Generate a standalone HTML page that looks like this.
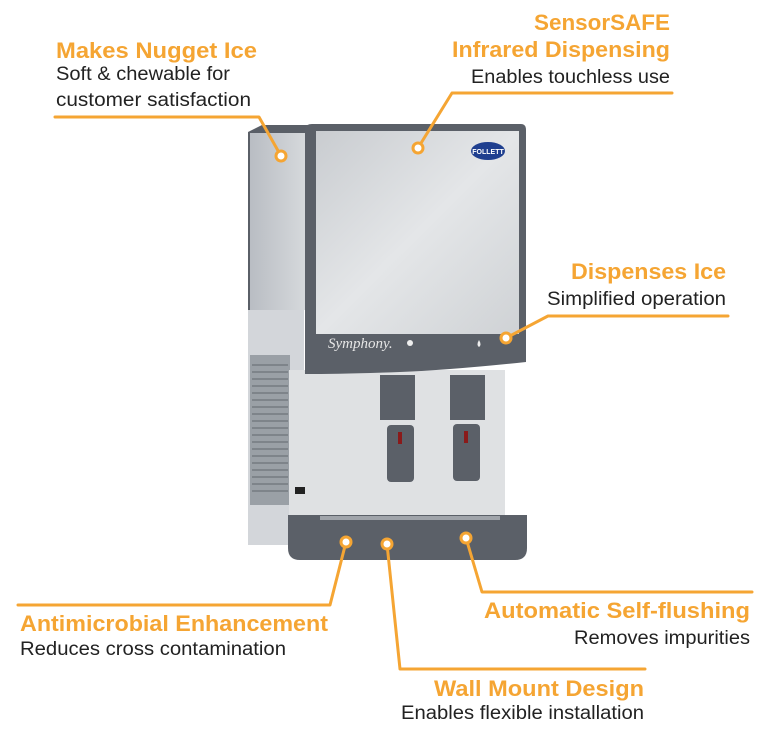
<!DOCTYPE html>
<html><head><meta charset="utf-8"><style>
html,body{margin:0;padding:0;background:#fff;width:770px;height:730px;overflow:hidden}
svg{display:block}
.t{font-family:"Liberation Sans",sans-serif;font-weight:bold;font-size:22.5px;fill:#f5a533}
.s{font-family:"Liberation Sans",sans-serif;font-size:19px;fill:#222}
</style></head><body>
<svg width="770" height="730" viewBox="0 0 770 730">
<defs>
<linearGradient id="steel" x1="0" y1="0" x2="1" y2="1"><stop offset="0" stop-color="#c9ccd0"/><stop offset="0.5" stop-color="#e4e6e8"/><stop offset="1" stop-color="#cfd2d5"/></linearGradient>
<linearGradient id="side" x1="0" y1="0" x2="1" y2="0"><stop offset="0" stop-color="#b9bdc3"/><stop offset="1" stop-color="#d6d9dc"/></linearGradient>
</defs>
<polygon points="248,132 262,125 308,125 308,310 248,310" fill="#5a5f67"/>
<rect x="250" y="133" width="56" height="177" fill="url(#side)"/>
<rect x="248" y="310" width="56" height="235" fill="#d3d6da"/>
<rect x="250" y="355" width="40" height="150" fill="#9aa0a6"/>
<g stroke="#6d737a" stroke-width="1.2">
<line x1="252" y1="365" x2="288" y2="365"/><line x1="252" y1="372" x2="288" y2="372"/><line x1="252" y1="379" x2="288" y2="379"/><line x1="252" y1="386" x2="288" y2="386"/><line x1="252" y1="393" x2="288" y2="393"/><line x1="252" y1="400" x2="288" y2="400"/><line x1="252" y1="407" x2="288" y2="407"/><line x1="252" y1="414" x2="288" y2="414"/><line x1="252" y1="421" x2="288" y2="421"/><line x1="252" y1="428" x2="288" y2="428"/><line x1="252" y1="435" x2="288" y2="435"/><line x1="252" y1="442" x2="288" y2="442"/><line x1="252" y1="449" x2="288" y2="449"/><line x1="252" y1="456" x2="288" y2="456"/><line x1="252" y1="463" x2="288" y2="463"/><line x1="252" y1="470" x2="288" y2="470"/><line x1="252" y1="477" x2="288" y2="477"/><line x1="252" y1="484" x2="288" y2="484"/><line x1="252" y1="491" x2="288" y2="491"/>
</g>
<rect x="289" y="370" width="216" height="145" fill="#dfe1e3"/>
<path d="M305,130 Q305,124 312,124 L521,124 Q526,124 526,130 L526,362 Q450,370 400,372 Q340,374 305,374 Z" fill="#5b6068"/>
<rect x="316" y="131" width="203" height="203" fill="url(#steel)"/>
<ellipse cx="488" cy="151" rx="17" ry="9" fill="#1f3f8f"/>
<text x="488" y="154" font-family="Liberation Sans,sans-serif" font-size="7" font-weight="bold" fill="#fff" text-anchor="middle">FOLLETT</text>
<text x="328" y="348" font-family="Liberation Serif,serif" font-style="italic" font-size="15" fill="#e6e6e6">Symphony.</text>
<circle cx="410" cy="343" r="3" fill="#eee"/>
<path d="M479,340 q-3,5 0,7 q3,-2 0,-7z" fill="#eee"/>
<rect x="380" y="375" width="35" height="45" fill="#5b6068"/>
<rect x="450" y="375" width="35" height="45" fill="#5b6068"/>
<rect x="387" y="425" width="27" height="57" rx="4" fill="#5b6068"/>
<rect x="453" y="424" width="27" height="57" rx="4" fill="#5b6068"/>
<rect x="398" y="432" width="4" height="12" fill="#8a1a1a"/>
<rect x="464" y="431" width="4" height="12" fill="#8a1a1a"/>
<rect x="295" y="487" width="10" height="7" fill="#222"/>
<path d="M288,515 L527,515 L527,548 Q527,560 515,560 L300,560 Q288,560 288,548 Z" fill="#5b6068"/>
<rect x="320" y="516" width="180" height="4" fill="#a0a4aa"/>
<g stroke="#f5a533" stroke-width="3" fill="none" stroke-linecap="round" stroke-linejoin="round">
<polyline points="55,117 259,117 281,156"/>
<polyline points="672,93 452,93 418,148"/>
<polyline points="728,316 548,316 506,338"/>
<polyline points="18,605 330,605 346,542"/>
<polyline points="645,669 400,669 387,544"/>
<polyline points="752,592 482,592 466,538"/>
</g>
<g fill="#fff" stroke="#f5a533" stroke-width="3">
<circle cx="281" cy="156" r="5"/><circle cx="418" cy="148" r="5"/><circle cx="506" cy="338" r="5"/>
<circle cx="346" cy="542" r="5"/><circle cx="387" cy="544" r="5"/><circle cx="466" cy="538" r="5"/>
</g>
<text class="t" x="56" y="58" textLength="201" lengthAdjust="spacingAndGlyphs">Makes Nugget Ice</text>
<text class="s" x="56" y="80" textLength="174" lengthAdjust="spacingAndGlyphs">Soft &amp; chewable for</text>
<text class="s" x="56" y="106" textLength="195" lengthAdjust="spacingAndGlyphs">customer satisfaction</text>
<text class="t" x="534" y="30" textLength="136" lengthAdjust="spacingAndGlyphs">SensorSAFE</text>
<text class="t" x="452" y="57" textLength="218" lengthAdjust="spacingAndGlyphs">Infrared Dispensing</text>
<text class="s" x="471" y="83" textLength="199" lengthAdjust="spacingAndGlyphs">Enables touchless use</text>
<text class="t" x="571" y="279" textLength="155" lengthAdjust="spacingAndGlyphs">Dispenses Ice</text>
<text class="s" x="547" y="305" textLength="179" lengthAdjust="spacingAndGlyphs">Simplified operation</text>
<text class="t" x="20" y="631" textLength="308" lengthAdjust="spacingAndGlyphs">Antimicrobial Enhancement</text>
<text class="s" x="20" y="655" textLength="266" lengthAdjust="spacingAndGlyphs">Reduces cross contamination</text>
<text class="t" x="484" y="618" textLength="266" lengthAdjust="spacingAndGlyphs">Automatic Self-flushing</text>
<text class="s" x="574" y="644" textLength="176" lengthAdjust="spacingAndGlyphs">Removes impurities</text>
<text class="t" x="434" y="696" textLength="210" lengthAdjust="spacingAndGlyphs">Wall Mount Design</text>
<text class="s" x="401" y="719" textLength="243" lengthAdjust="spacingAndGlyphs">Enables flexible installation</text>
</svg>
</body></html>
